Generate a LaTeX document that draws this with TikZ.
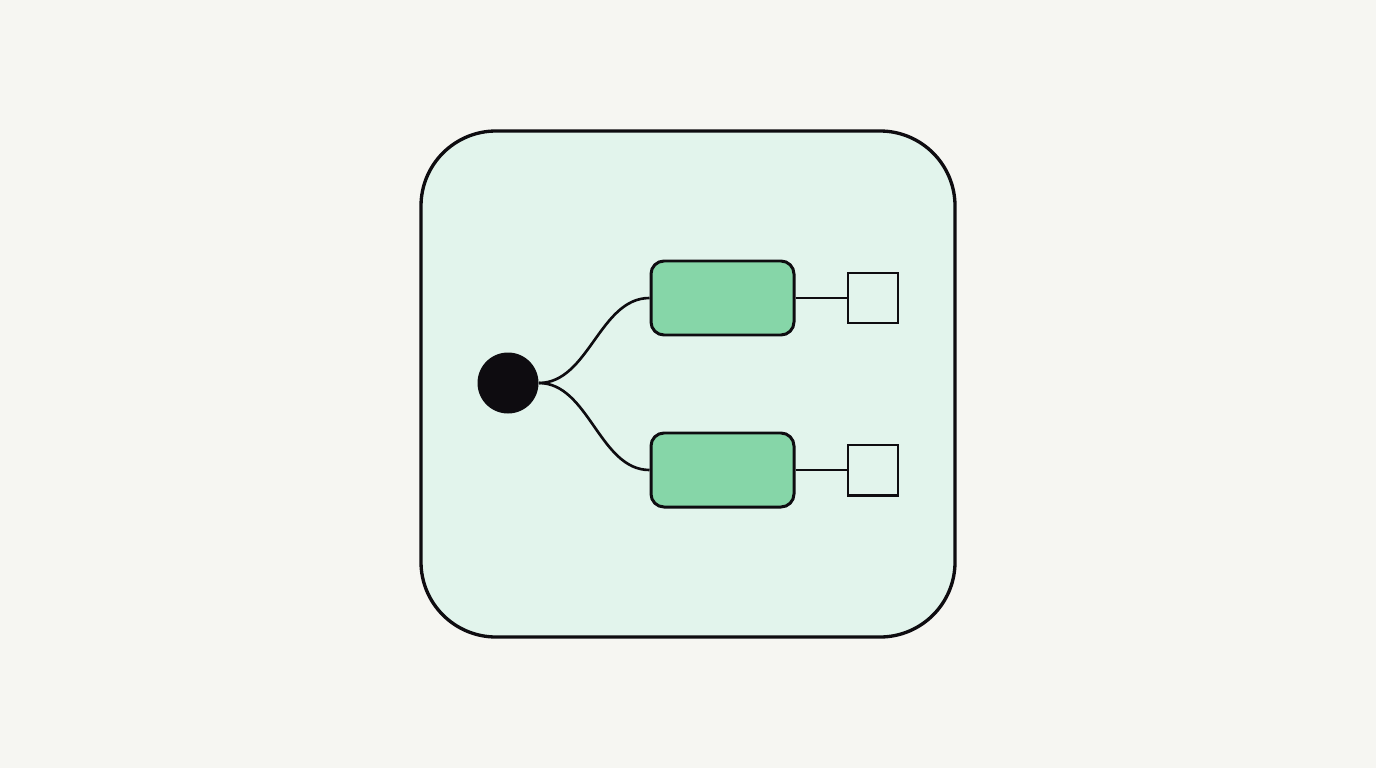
\documentclass[tikz,border=0pt]{standalone}
\usepackage{tikz}
\usetikzlibrary{positioning}
\definecolor{paper}{HTML}{F6F6F2}
\definecolor{mint}{HTML}{E2F4EC}
\definecolor{leaf}{HTML}{86D6A8}
\definecolor{ink}{HTML}{0E0C10}

\begin{document}
\begin{tikzpicture}[
        frame/.style={draw=ink, fill=mint, line width=1.9pt, rounded corners=1.5cm, minimum width=10.68cm, minimum height=10.12cm},
        source/.style={circle, fill=ink, minimum size=1.22cm, inner sep=0pt},
        block/.style={draw=ink, fill=leaf, line width=1.7pt, rounded corners=0.26cm, minimum width=2.86cm, minimum height=1.48cm},
        sink/.style={draw=ink, fill=mint, line width=1.7pt, minimum size=1.0cm, inner sep=0pt},
        edge/.style={draw=ink, line width=1.5pt}
    ]
        % Background
        \fill[paper] (0,0) rectangle (27.52,-15.36);
        \useasboundingbox (0,0) rectangle (27.52,-15.36);

        % Nodes
        \node[frame] (box) at (13.76,-7.68) {};
        \node[source] (dot) at (10.16,-7.66) {};
        \node[block] (a) at (14.45,-5.96) {};
        \node[block] (b) at (14.45,-9.40) {};
        \node[sink, right=1.02cm of a] (sa) {};
        \node[sink, right=1.02cm of b] (sb) {};

        % Edges
        \draw[edge] (dot.east) .. controls +(1.0,0) and +(-1.0,0) .. (a.west);
        \draw[edge] (dot.east) .. controls +(1.0,0) and +(-1.0,0) .. (b.west);
        \draw[edge] (a) -- (sa);
        \draw[edge] (b) -- (sb);
    \end{tikzpicture}
\end{document}
